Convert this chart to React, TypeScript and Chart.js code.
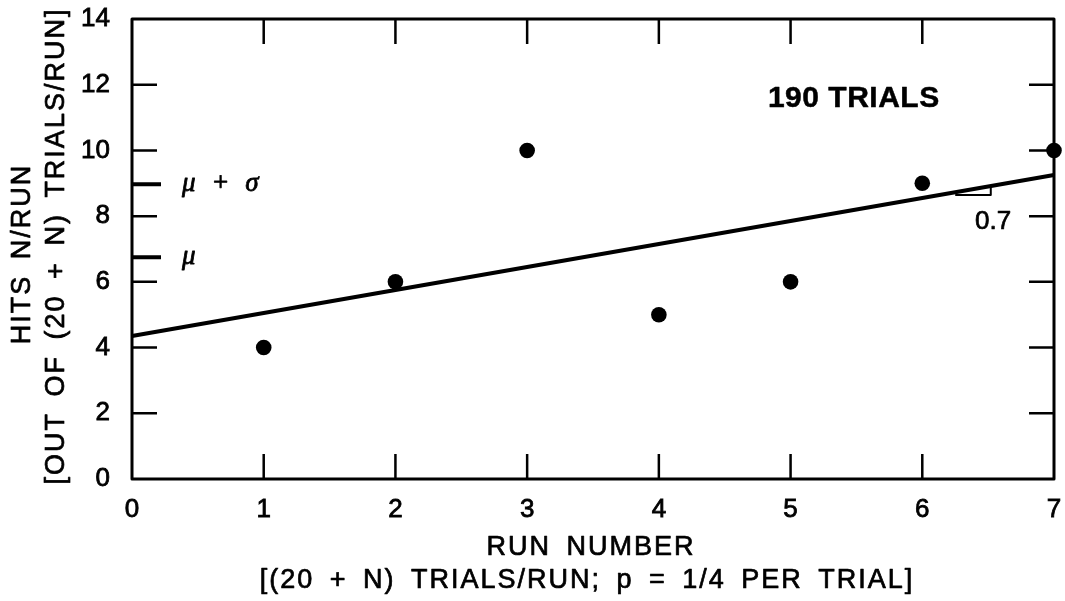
import React, { useEffect, useRef } from 'react';
import { Chart, registerables } from 'chart.js';

Chart.register(...registerables);

// ---- data ----
const runNumbers = [1, 2, 3, 4, 5, 6, 7];
const hitsPerRun = [4, 6, 10, 5, 6, 9, 10];
const fitLineX = [0, 7];
const fitLineY = [4.35, 9.25];
const xTickValues = [0, 1, 2, 3, 4, 5, 6, 7];
const yTickValues = [0, 2, 4, 6, 8, 10, 12, 14];
const muValue = 6.75;
const muPlusSigmaValue = 8.97;
const slopeText = '0.7';
const trialsText = '190 TRIALS';
const yTitleLines = ['HITS N/RUN', '[OUT OF (20 + N) TRIALS/RUN]'];
const xTitleLines = ['RUN NUMBER', '[(20 + N) TRIALS/RUN; p = 1/4 PER TRIAL]'];

const FONT = '"Liberation Sans", Arial, sans-serif';
const AREA = { left: 132, top: 19, right: 1054, bottom: 479 };

function fitAt(v: number) {
  const t = (v - fitLineX[0]) / (fitLineX[1] - fitLineX[0]);
  return fitLineY[0] + t * (fitLineY[1] - fitLineY[0]);
}

function heavyText(ctx: CanvasRenderingContext2D, s: string, x: number, y: number, w = 0.7) {
  ctx.lineWidth = w;
  ctx.strokeText(s, x, y);
  ctx.fillText(s, x, y);
}

const decorPlugin = {
  id: 'decor',
  afterDraw(chart: any) {
    const { ctx, chartArea: a, scales } = chart;
    const xs = scales.x;
    const ys = scales.y;
    ctx.save();
    ctx.strokeStyle = '#000';
    ctx.fillStyle = '#000';
    ctx.lineJoin = 'round';

    // frame
    ctx.lineWidth = 3;
    ctx.strokeRect(a.left, a.top, a.right - a.left, a.bottom - a.top);

    // inward ticks
    const L = 25;
    ctx.lineWidth = 2.5;
    ctx.beginPath();
    xTickValues.forEach((v, i) => {
      if (i === 0 || i === xTickValues.length - 1) return;
      const px = xs.getPixelForValue(v);
      ctx.moveTo(px, a.bottom);
      ctx.lineTo(px, a.bottom - L);
      ctx.moveTo(px, a.top);
      ctx.lineTo(px, a.top + L);
    });
    yTickValues.forEach((v, i) => {
      if (i === 0 || i === yTickValues.length - 1) return;
      const py = ys.getPixelForValue(v);
      ctx.moveTo(a.left, py);
      ctx.lineTo(a.left + L, py);
      ctx.moveTo(a.right, py);
      ctx.lineTo(a.right - L, py);
    });
    ctx.stroke();

    // mu and mu+sigma marks
    ctx.lineWidth = 4;
    ctx.beginPath();
    [muValue, muPlusSigmaValue].forEach((v) => {
      const py = ys.getPixelForValue(v);
      ctx.moveTo(a.left, py);
      ctx.lineTo(a.left + 29, py);
    });
    ctx.stroke();

    ctx.font = 'italic 27px "Liberation Serif", serif';
    ctx.textBaseline = 'middle';
    ctx.textAlign = 'left';
    (ctx as any).wordSpacing = '9px';
    heavyText(ctx, '\u03bc + \u03c3', xs.getPixelForValue(0.38), ys.getPixelForValue(muPlusSigmaValue), 0.8);
    heavyText(ctx, '\u03bc', xs.getPixelForValue(0.38), ys.getPixelForValue(muValue), 0.8);
    (ctx as any).wordSpacing = '0px';

    // slope triangle
    const xa = 6.25;
    const xb = 6.52;
    const ya = fitAt(xa) - 0.08;
    ctx.lineWidth = 2;
    ctx.beginPath();
    ctx.moveTo(xs.getPixelForValue(xa), ys.getPixelForValue(ya));
    ctx.lineTo(xs.getPixelForValue(xb), ys.getPixelForValue(ya));
    ctx.lineTo(xs.getPixelForValue(xb), ys.getPixelForValue(fitAt(xb)));
    ctx.stroke();

    ctx.font = `26px ${FONT}`;
    ctx.textAlign = 'left';
    heavyText(ctx, slopeText, xs.getPixelForValue(6.4), ys.getPixelForValue(7.82));

    ctx.font = `bold 30px ${FONT}`;
    ctx.textAlign = 'center';
    (ctx as any).letterSpacing = '0.5px';
    heavyText(ctx, trialsText, xs.getPixelForValue(5.48), ys.getPixelForValue(11.56), 0.5);

    // axis titles
    ctx.font = `27px ${FONT}`;
    (ctx as any).letterSpacing = '2px';
    (ctx as any).wordSpacing = '6px';
    const cx = (a.left + a.right) / 2;
    ctx.textAlign = 'center';
    heavyText(ctx, xTitleLines[0], cx - 2, 548);
    heavyText(ctx, xTitleLines[1], cx - 6, 581);

    const cy = (a.top + a.bottom) / 2;
    ctx.save();
    ctx.translate(23, cy + 5);
    ctx.rotate(-Math.PI / 2);
    heavyText(ctx, yTitleLines[0], 0, 0);
    ctx.restore();
    ctx.save();
    ctx.translate(57, cy - 3);
    ctx.rotate(-Math.PI / 2);
    heavyText(ctx, yTitleLines[1], 0, 0);
    ctx.restore();

    ctx.restore();
  },
};

function zeroPadding(s: any) {
  s.paddingTop = 0;
  s.paddingBottom = 0;
  s.paddingLeft = 0;
  s.paddingRight = 0;
}

export default function App() {
  const ref = useRef<HTMLCanvasElement | null>(null);

  useEffect(() => {
    document.body.style.margin = '0';
    const canvas = ref.current;
    if (!canvas) return;
    const padding = { top: AREA.top, right: 1065 - AREA.right, left: 0, bottom: 0 };
    const tickFont = { size: 26, family: FONT };
    const chart = new Chart(canvas, {
      type: 'scatter',
      data: {
        datasets: [
          {
            label: 'Hits per run',
            data: runNumbers.map((r, i) => ({ x: r, y: hitsPerRun[i] })),
            backgroundColor: '#000',
            borderColor: '#000',
            borderWidth: 0,
            pointRadius: 7.8,
            showLine: false,
            clip: false as any,
          },
          {
            label: 'Fit',
            data: fitLineX.map((x, i) => ({ x, y: fitLineY[i] })),
            showLine: true,
            borderColor: '#000',
            borderWidth: 4,
            pointRadius: 0,
            fill: false,
            clip: false as any,
          },
        ],
      },
      options: {
        responsive: false,
        animation: false,
        events: [],
        layout: { padding: { ...padding } },
        plugins: {
          legend: { display: false },
          tooltip: { enabled: false },
          title: { display: false },
        },
        scales: {
          x: {
            type: 'linear',
            min: 0,
            max: 7,
            afterBuildTicks: (s: any) => {
              s.ticks = xTickValues.map((v) => ({ value: v }));
            },
            ticks: {
              color: '#000',
              font: tickFont,
              padding: 7,
              maxRotation: 0,
              textStrokeColor: '#000',
              textStrokeWidth: 0.8,
            } as any,
            grid: { display: false },
            border: { display: false },
            afterFit: (s: any) => {
              s.height = 601 - AREA.bottom;
              zeroPadding(s);
            },
          },
          y: {
            type: 'linear',
            min: 0,
            max: 14,
            afterBuildTicks: (s: any) => {
              s.ticks = yTickValues.map((v) => ({ value: v }));
            },
            ticks: {
              color: '#000',
              font: tickFont,
              padding: 14,
              textStrokeColor: '#000',
              textStrokeWidth: 0.8,
            } as any,
            grid: { display: false },
            border: { display: false },
            afterFit: (s: any) => {
              s.width = AREA.left;
              zeroPadding(s);
            },
          },
        },
      },
      plugins: [decorPlugin],
    });
    // nudge layout padding so the plot frame lands where the reference has it
    for (let k = 0; k < 4; k++) {
      const ca = chart.chartArea;
      const dTop = AREA.top - ca.top;
      const dRight = ca.right - AREA.right;
      if (Math.abs(dTop) < 0.5 && Math.abs(dRight) < 0.5) break;
      padding.top = Math.max(0, padding.top + dTop);
      padding.right = Math.max(0, padding.right + dRight);
      chart.options.layout!.padding = { ...padding } as any;
      chart.update();
    }
    return () => chart.destroy();
  }, []);

  return (
    <div style={{ width: 1065, height: 601 }}>
      <canvas ref={ref} width={1065} height={601} style={{ display: 'block' }} />
    </div>
  );
}
